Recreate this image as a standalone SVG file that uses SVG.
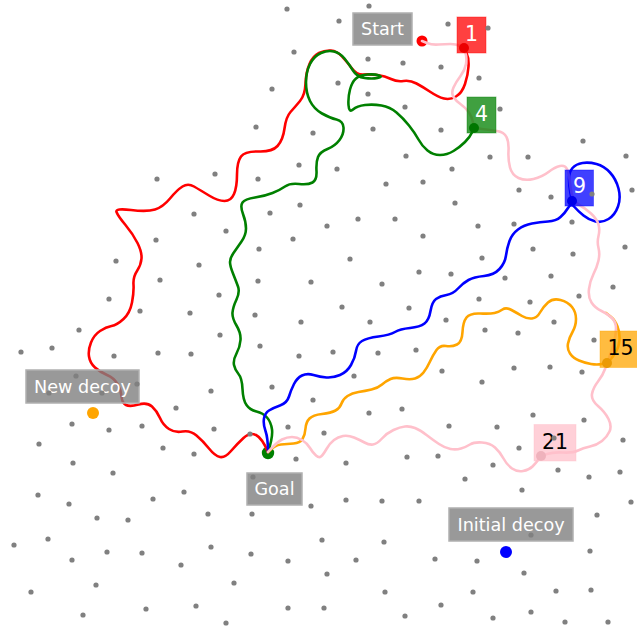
<svg xmlns="http://www.w3.org/2000/svg" width="637" height="627" viewBox="0 0 637 627">
<style>
.p{fill:none;stroke-width:2.6;stroke-linecap:round;stroke-linejoin:round}
.lbl{fill:#808080;fill-opacity:0.8;stroke:#b0b0b0;stroke-width:1.5}
.lt{font-family:"DejaVu Sans",sans-serif;font-size:17.6px;fill:#ffffff;text-anchor:middle}
.nt{font-family:"DejaVu Sans",sans-serif;font-size:20.5px;text-anchor:middle}
.d{fill:#808080}
</style>
<rect width="637" height="627" fill="#ffffff"/>
<g id="goal-marker"><circle cx="268" cy="453" r="6.2" fill="#008000"/></g>
<g id="start-marker"><circle cx="422" cy="41" r="5.5" fill="#ff0000"/></g>
<g id="connectors">
<path class="p" stroke="#ff0000" d="M464,48 L466.5,53 Q469,58 468.5,66.5 Q468,75 465,84 Q462,93 456,96.5 Q450,100 444,98.5 Q438,97 430.5,92 Q423,87 416.5,83.5 Q410,80 403.5,81 Q397,82 391,79 Q385,76 377.5,75 Q370,74 363.5,74.5 Q357,75 352,68.5 Q347,62 342,56.5 Q337,51 331,50.5 Q325,50 319,53 Q313,56 309.5,64 Q306,72 305.5,83.5 Q305,95 300,101 Q295,107 290.5,112 Q286,117 284.5,128.5 Q283,140 277.5,146 Q272,152 258.5,151.5 Q245,151 241,156.5 Q237,162 237,174.5 Q237,187 234,194 Q231,201 224.5,201 Q218,201 209,195.5 Q200,190 194,186.5 Q188,183 182.5,186.5 Q177,190 170,198.5 Q163,207 155,209.5 Q147,212 131,210 Q115,208 116.5,212 Q118,216 125.5,225 Q133,234 137.5,243 Q142,252 141.5,258.5 Q141,265 137,271 Q133,277 133.5,284.5 Q134,292 132,302.5 Q130,313 123.5,319 Q117,325 111.5,326 Q106,327 100,331 Q94,335 91,342.5 Q88,350 89,356.5 Q90,363 95,367.5 Q100,372 107,375 Q114,378 117.5,384 Q121,390 121.5,396.5 Q122,403 126,405 Q130,407 138.5,404.5 Q147,402 152,406.5 Q157,411 160,418 Q163,425 169,429 Q175,433 182.5,431.5 Q190,430 196.5,435.5 Q203,441 209,448.5 Q215,456 220,457 Q225,458 231,451 Q237,444 243.5,438 Q250,432 256,435 Q262,438 268,452"/>
<path class="p" stroke="#008000" d="M474,128 L472,132.5 Q470,137 465,142 Q460,147 453.5,151 Q447,155 440,155 Q433,155 427.5,150.5 Q422,146 418.5,139.5 Q415,133 409,125.5 Q403,118 396.5,112.5 Q390,107 381.5,105.5 Q373,104 365,105 Q357,106 353,109.5 Q349,113 348.5,105 Q348,97 350,89.5 Q352,82 356,78.5 Q360,75 367.5,74.5 Q375,74 379,75.5 Q383,77 377.5,78 Q372,79 364.5,78 Q357,77 353,70.5 Q349,64 344.5,58.5 Q340,53 334,51.5 Q328,50 321,53 Q314,56 310,64 Q306,72 306,82.5 Q306,93 310,101 Q314,109 322,113.5 Q330,118 336.5,119.5 Q343,121 343.5,127.5 Q344,134 339.5,140 Q335,146 327.5,149 Q320,152 318,157 Q316,162 316.5,171 Q317,180 312.5,182.5 Q308,185 299,184 Q290,183 285,186.5 Q280,190 272.5,193 Q265,196 255,197.5 Q245,199 242.5,202.5 Q240,206 243,214 Q246,222 246,228.5 Q246,235 241.5,241.5 Q237,248 233.5,253 Q230,258 230,262 Q230,266 233,273.5 Q236,281 238,286.5 Q240,292 236.5,299.5 Q233,307 232.5,312.5 Q232,318 236.5,325.5 Q241,333 240.5,340 Q240,347 236.5,353.5 Q233,360 234,365 Q235,370 238.5,374 Q242,378 242.5,389 Q243,400 246.5,405 Q250,410 256.5,411.5 Q263,413 267,417.5 Q271,422 272,429.5 Q273,437 268,452"/>
<path class="p" stroke="#0000ff" d="M572,201 L570.5,193.5 Q569,186 569,179 Q569,172 572.5,168 Q576,164 582.5,163 Q589,162 596.5,164 Q604,166 610,172.5 Q616,179 618.5,188.5 Q621,198 618,206.5 Q615,215 608.5,219 Q602,223 595.5,221.5 Q589,220 583.5,215.5 Q578,211 574.5,207 Q571,203 568,208 Q565,213 560.5,217 Q556,221 548,221.5 Q540,222 532,223.5 Q524,225 518,229.5 Q512,234 509.5,241 Q507,248 506,255.5 Q505,263 499.5,269 Q494,275 484,276 Q474,277 468.5,280 Q463,283 458,288.5 Q453,294 446.5,295 Q440,296 436,299 Q432,302 430.5,311 Q429,320 424.5,323.5 Q420,327 410,328 Q400,329 395,332 Q390,335 378.5,336.5 Q367,338 362,341 Q357,344 356,351 Q355,358 351,365 Q347,372 340,375 Q333,378 326.5,377.5 Q320,377 313.5,375 Q307,373 302,375.5 Q297,378 294,384 Q291,390 289,396.5 Q287,403 280,405.5 Q273,408 269,410.5 Q265,413 264,418.5 Q263,424 265.5,431 Q268,438 268,452"/>
<path class="p" stroke="#ffa500" d="M606,313 L610.5,316.5 Q615,320 617.5,326.5 Q620,333 619.5,340 Q619,347 615.5,352.5 Q612,358 609.5,360.5 Q607,363 602,364 Q597,365 591,364 Q585,363 579,360.5 Q573,358 570,353.5 Q567,349 568,343.5 Q569,338 572.5,332 Q576,326 576,319 Q576,312 572,307 Q568,302 560.5,300 Q553,298 548,302.5 Q543,307 540,312.5 Q537,318 532,318.5 Q527,319 522,316 Q517,313 511.5,310 Q506,307 502.5,309.5 Q499,312 494.5,313 Q490,314 480,313.5 Q470,313 466.5,317.5 Q463,322 462.5,332 Q462,342 457,344.5 Q452,347 446,346 Q440,345 436.5,350 Q433,355 430,361.5 Q427,368 423.5,372.5 Q420,377 415,378.5 Q410,380 402.5,378.5 Q395,377 390.5,379 Q386,381 382,384.5 Q378,388 371.5,389.5 Q365,391 358.5,392 Q352,393 347.5,396 Q343,399 341.5,403.5 Q340,408 335.5,410.5 Q331,413 322,414 Q313,415 309.5,418.5 Q306,422 305.5,428.5 Q305,435 302.5,439 Q300,443 293.5,443.5 Q287,444 281,444.5 Q275,445 268,452"/>
<path class="p" stroke="#ffc0cb" d="M422,41 L427,43 Q432,45 438.5,44.5 Q445,44 450.5,44 Q456,44 460,46 Q464,48 465.5,53 Q467,58 466,64 Q465,70 460.5,76 Q456,82 453.5,87.5 Q451,93 453.5,97 Q456,101 461,104.5 Q466,108 469,112.5 Q472,117 473,122.5 Q474,128 482,129 Q490,130 497,131 Q504,132 506.5,137 Q509,142 508.5,151 Q508,160 510,167.5 Q512,175 518.5,178 Q525,181 533.5,179 Q542,177 548.5,172 Q555,167 560,166 Q565,165 567,169 Q569,173 570.5,187 Q572,201 578.5,204.5 Q585,208 591,213.5 Q597,219 598.5,224.5 Q600,230 598.5,236 Q597,242 598.5,248 Q600,254 598.5,260.5 Q597,267 593.5,274 Q590,281 589,289 Q588,297 591.5,302.5 Q595,308 601.5,311 Q608,314 612,318 Q616,322 616,328.5 Q616,335 614,342.5 Q612,350 609.5,356.5 Q607,363 605,369 Q603,375 598,381.5 Q593,388 592,394 Q591,400 598,406 Q605,412 608.5,419 Q612,426 609.5,431.5 Q607,437 602,441 Q597,445 590,446.5 Q583,448 578,450.5 Q573,453 563,452.5 Q553,452 547,454 Q541,456 538.5,459.5 Q536,463 532.5,466.5 Q529,470 523,471 Q517,472 512,468.5 Q507,465 503.5,458.5 Q500,452 495,447.5 Q490,443 482,442.5 Q474,442 470,444.5 Q466,447 461,448.5 Q456,450 450.5,449 Q445,448 439,444 Q433,440 426.5,435 Q420,430 415,428 Q410,426 405,426.5 Q400,427 393.5,430 Q387,433 382,438.5 Q377,444 373,444.5 Q369,445 364.5,442.5 Q360,440 354,437.5 Q348,435 343,436 Q338,437 334,440 Q330,443 326.5,449 Q323,455 321,456.5 Q319,458 316,455.5 Q313,453 310,448 Q307,443 302,440 Q297,437 292,437 Q287,437 282,439.5 Q277,442 268,452"/>
</g>
<g id="node-1">
<circle cx="464" cy="48" r="5" fill="#b00000"/>
<rect x="457" y="17" width="29" height="36" fill="#ff0000" fill-opacity="0.75" stroke="#ff0000" stroke-opacity="0.4"/>
<text class="nt" x="471.5" y="40.5" fill="#ffffff">1</text>
</g>
<g id="node-4">
<circle cx="474" cy="128" r="5" fill="#005a00"/>
<rect x="467" y="97" width="29" height="36" fill="#008000" fill-opacity="0.75" stroke="#008000" stroke-opacity="0.4"/>
<text class="nt" x="481.5" y="121" fill="#ffffff">4</text>
</g>
<g id="node-9">
<circle cx="572" cy="201" r="5" fill="#0000a8"/>
<rect x="565" y="170" width="28.5" height="36" fill="#0000ff" fill-opacity="0.75" stroke="#0000ff" stroke-opacity="0.4"/>
<text class="nt" x="579.5" y="193" fill="#ffffff">9</text>
</g>
<g id="node-15">
<circle cx="607" cy="363" r="5" fill="#b07a10"/>
<rect x="600" y="331" width="41" height="36.5" fill="#ffa500" fill-opacity="0.75" stroke="#ffa500" stroke-opacity="0.4"/>
<text class="nt" x="620.5" y="355" fill="#000000">15</text>
</g>
<g id="node-21">
<circle cx="541" cy="456" r="5" fill="#c08890"/>
<rect x="534" y="424.5" width="42" height="36.5" fill="#ffc0cb" fill-opacity="0.75" stroke="#ffc0cb" stroke-opacity="0.4"/>
<text class="nt" x="555" y="449" fill="#000000">21</text>
</g>
<g id="start">
<rect class="lbl" x="353" y="13" width="59" height="32"/>
<text class="lt" x="382.5" y="34.5">Start</text>
</g>
<g id="goal">
<rect class="lbl" x="247" y="473" width="55" height="32"/>
<text class="lt" x="274.5" y="495">Goal</text>
</g>
<g id="new-decoy">
<circle cx="93" cy="413" r="6" fill="#ffa500"/>
<rect class="lbl" x="26" y="370" width="113" height="33"/>
<text class="lt" x="82.5" y="393">New decoy</text>
</g>
<g id="initial-decoy">
<circle cx="506" cy="552" r="6" fill="#0000ff"/>
<rect class="lbl" x="449" y="508" width="124" height="33"/>
<text class="lt" x="511" y="530.5">Initial decoy</text>
</g>
<g id="grid-points" class="d">
<circle cx="287" cy="9" r="2.6"/><circle cx="339" cy="21" r="2.6"/><circle cx="294" cy="52" r="2.6"/><circle cx="338" cy="83" r="2.6"/><circle cx="272" cy="89" r="2.6"/><circle cx="256" cy="127" r="2.6"/><circle cx="313" cy="133" r="2.6"/><circle cx="299" cy="165" r="2.6"/><circle cx="337" cy="169" r="2.6"/><circle cx="215" cy="174" r="2.6"/><circle cx="157" cy="179" r="2.6"/><circle cx="258" cy="179" r="2.6"/><circle cx="194" cy="214" r="2.6"/><circle cx="270" cy="213" r="2.6"/><circle cx="300" cy="205" r="2.6"/><circle cx="226" cy="231" r="2.6"/><circle cx="327" cy="226" r="2.6"/><circle cx="156" cy="240" r="2.6"/><circle cx="293" cy="239" r="2.6"/><circle cx="259" cy="249" r="2.6"/><circle cx="116" cy="261" r="2.6"/><circle cx="199" cy="265" r="2.6"/><circle cx="160" cy="280" r="2.6"/><circle cx="258" cy="281" r="2.6"/><circle cx="311" cy="282" r="2.6"/><circle cx="109" cy="299" r="2.6"/><circle cx="219" cy="295" r="2.6"/><circle cx="140" cy="311" r="2.6"/><circle cx="190" cy="313" r="2.6"/><circle cx="255" cy="315" r="2.6"/><circle cx="301" cy="322" r="2.6"/><circle cx="79" cy="330" r="2.6"/><circle cx="220" cy="335" r="2.6"/><circle cx="260" cy="346" r="2.6"/><circle cx="21" cy="352" r="2.6"/><circle cx="52" cy="348" r="2.6"/><circle cx="114" cy="356" r="2.6"/><circle cx="158" cy="353" r="2.6"/><circle cx="191" cy="354" r="2.6"/><circle cx="299" cy="356" r="2.6"/><circle cx="333" cy="352" r="2.6"/>
<circle cx="369" cy="6" r="2.6"/><circle cx="448" cy="24" r="2.6"/><circle cx="488" cy="28" r="2.6"/><circle cx="368" cy="59" r="2.6"/><circle cx="403" cy="63" r="2.6"/><circle cx="441" cy="67" r="2.6"/><circle cx="479" cy="78" r="2.6"/><circle cx="368" cy="94" r="2.6"/><circle cx="405" cy="107" r="2.6"/><circle cx="500" cy="109" r="2.6"/><circle cx="373" cy="129" r="2.6"/><circle cx="441" cy="130" r="2.6"/><circle cx="406" cy="156" r="2.6"/><circle cx="490" cy="157" r="2.6"/><circle cx="528" cy="157" r="2.6"/><circle cx="583" cy="141" r="2.6"/>
<circle cx="626" cy="156" r="2.6"/><circle cx="452" cy="169" r="2.6"/><circle cx="519" cy="190" r="2.6"/><circle cx="551" cy="197" r="2.6"/><circle cx="592" cy="194" r="2.6"/><circle cx="632" cy="190" r="2.6"/><circle cx="455" cy="203" r="2.6"/><circle cx="514" cy="224" r="2.6"/><circle cx="572" cy="222" r="2.6"/><circle cx="478" cy="226" r="2.6"/><circle cx="625" cy="247" r="2.6"/><circle cx="533" cy="249" r="2.6"/><circle cx="573" cy="254" r="2.6"/><circle cx="482" cy="258" r="2.6"/><circle cx="451" cy="274" r="2.6"/><circle cx="505" cy="278" r="2.6"/><circle cx="551" cy="276" r="2.6"/><circle cx="613" cy="287" r="2.6"/><circle cx="479" cy="299" r="2.6"/><circle cx="530" cy="302" r="2.6"/><circle cx="579" cy="296" r="2.6"/><circle cx="446" cy="320" r="2.6"/><circle cx="554" cy="322" r="2.6"/><circle cx="485" cy="330" r="2.6"/><circle cx="518" cy="333" r="2.6"/><circle cx="594" cy="340" r="2.6"/><circle cx="442" cy="371" r="2.6"/><circle cx="514" cy="368" r="2.6"/><circle cx="550" cy="367" r="2.6"/><circle cx="582" cy="372" r="2.6"/><circle cx="482" cy="382" r="2.6"/>
<circle cx="386" cy="184" r="2.6"/><circle cx="423" cy="182" r="2.6"/><circle cx="358" cy="219" r="2.6"/><circle cx="395" cy="219" r="2.6"/><circle cx="423" cy="236" r="2.6"/><circle cx="350" cy="259" r="2.6"/><circle cx="419" cy="272" r="2.6"/><circle cx="382" cy="284" r="2.6"/>
<circle cx="342" cy="307" r="2.6"/><circle cx="409" cy="308" r="2.6"/><circle cx="370" cy="322" r="2.6"/><circle cx="378" cy="353" r="2.6"/><circle cx="416" cy="350" r="2.6"/><circle cx="354" cy="376" r="2.6"/><circle cx="272" cy="387" r="2.6"/><circle cx="313" cy="400" r="2.6"/><circle cx="369" cy="413" r="2.6"/><circle cx="402" cy="409" r="2.6"/><circle cx="288" cy="427" r="2.6"/><circle cx="324" cy="433" r="2.6"/><circle cx="449" cy="426" r="2.6"/><circle cx="296" cy="459" r="2.6"/><circle cx="346" cy="463" r="2.6"/><circle cx="407" cy="457" r="2.6"/><circle cx="438" cy="456" r="2.6"/>
<circle cx="76" cy="376" r="2.6"/><circle cx="49" cy="393" r="2.6"/><circle cx="102" cy="393" r="2.6"/><circle cx="137" cy="384" r="2.6"/><circle cx="211" cy="391" r="2.6"/><circle cx="176" cy="408" r="2.6"/><circle cx="72" cy="424" r="2.6"/><circle cx="109" cy="430" r="2.6"/><circle cx="142" cy="426" r="2.6"/><circle cx="214" cy="429" r="2.6"/><circle cx="250" cy="434" r="2.6"/><circle cx="39" cy="444" r="2.6"/><circle cx="163" cy="448" r="2.6"/><circle cx="194" cy="454" r="2.6"/><circle cx="73" cy="463" r="2.6"/><circle cx="113" cy="473" r="2.6"/><circle cx="253" cy="477" r="2.6"/><circle cx="38" cy="495" r="2.6"/><circle cx="69" cy="504" r="2.6"/><circle cx="153" cy="499" r="2.6"/><circle cx="184" cy="492" r="2.6"/><circle cx="97" cy="518" r="2.6"/><circle cx="128" cy="520" r="2.6"/><circle cx="208" cy="514" r="2.6"/><circle cx="252" cy="514" r="2.6"/><circle cx="311" cy="506" r="2.6"/><circle cx="48" cy="539" r="2.6"/>
<circle cx="346" cy="500" r="2.6"/><circle cx="382" cy="501" r="2.6"/><circle cx="419" cy="501" r="2.6"/><circle cx="14" cy="545" r="2.6"/><circle cx="72" cy="560" r="2.6"/><circle cx="107" cy="552" r="2.6"/><circle cx="142" cy="553" r="2.6"/><circle cx="211" cy="547" r="2.6"/><circle cx="251" cy="554" r="2.6"/><circle cx="288" cy="561" r="2.6"/><circle cx="322" cy="540" r="2.6"/><circle cx="384" cy="542" r="2.6"/><circle cx="356" cy="560" r="2.6"/><circle cx="327" cy="574" r="2.6"/><circle cx="181" cy="565" r="2.6"/><circle cx="234" cy="583" r="2.6"/><circle cx="96" cy="585" r="2.6"/><circle cx="31" cy="592" r="2.6"/><circle cx="385" cy="592" r="2.6"/><circle cx="83" cy="615" r="2.6"/><circle cx="146" cy="609" r="2.6"/><circle cx="196" cy="606" r="2.6"/><circle cx="226" cy="623" r="2.6"/><circle cx="288" cy="608" r="2.6"/><circle cx="324" cy="608" r="2.6"/><circle cx="405" cy="616" r="2.6"/>
<circle cx="533" cy="415" r="2.6"/><circle cx="584" cy="420" r="2.6"/><circle cx="497" cy="427" r="2.6"/><circle cx="554" cy="438" r="2.6"/><circle cx="623" cy="440" r="2.6"/><circle cx="519" cy="448" r="2.6"/><circle cx="493" cy="465" r="2.6"/><circle cx="558" cy="470" r="2.6"/><circle cx="589" cy="477" r="2.6"/><circle cx="620" cy="472" r="2.6"/><circle cx="465" cy="479" r="2.6"/><circle cx="522" cy="490" r="2.6"/><circle cx="631" cy="502" r="2.6"/><circle cx="597" cy="515" r="2.6"/><circle cx="531" cy="535" r="2.6"/><circle cx="590" cy="551" r="2.6"/><circle cx="435" cy="559" r="2.6"/><circle cx="477" cy="561" r="2.6"/><circle cx="524" cy="573" r="2.6"/><circle cx="473" cy="592" r="2.6"/><circle cx="556" cy="591" r="2.6"/><circle cx="591" cy="590" r="2.6"/><circle cx="441" cy="605" r="2.6"/><circle cx="493" cy="618" r="2.6"/><circle cx="531" cy="612" r="2.6"/><circle cx="565" cy="622" r="2.6"/><circle cx="608" cy="622" r="2.6"/>
</g>
</svg>
